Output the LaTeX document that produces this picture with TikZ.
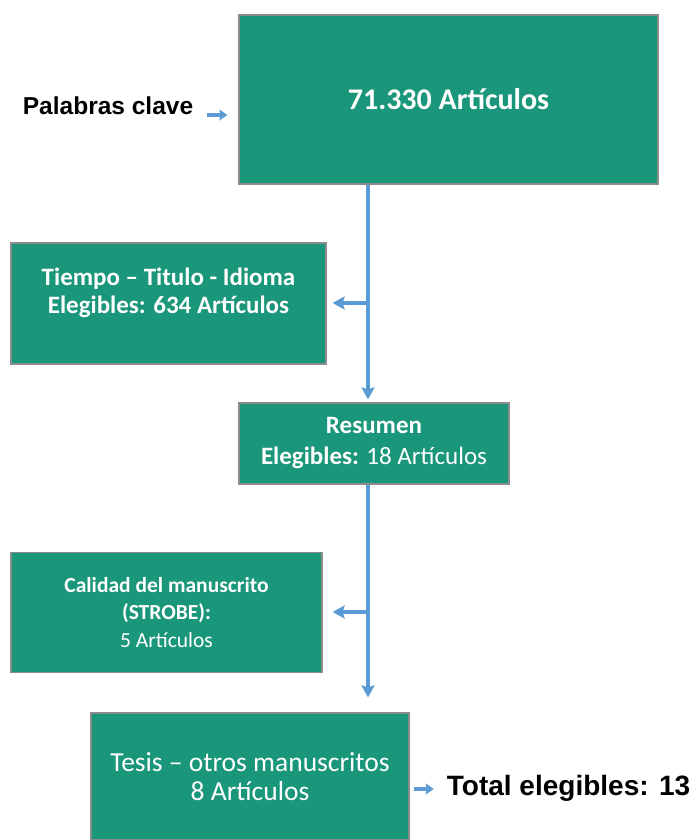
\documentclass[tikz,border=0pt]{standalone}
\usepackage{fontspec}
\setmainfont{Carlito}
\newfontfamily\arialfont{Liberation Sans}
\usepackage{tikz}
\usetikzlibrary{arrows.meta, calc, positioning}
\definecolor{boxgreen}{RGB}{26,150,122}
\definecolor{boxedge}{RGB}{140,140,140}
\definecolor{flowblue}{RGB}{91,155,213}
\tikzset{
  green box/.style={
    rectangle, draw=boxedge, line width=1.2pt, fill=boxgreen,
    text=white, align=center, inner sep=0pt
  },
  flow arrow/.style={draw=flowblue, line width=3.2pt, -{Stealth[width=13pt, length=12pt, inset=2pt]}},
  small arrow/.style={draw=flowblue, line width=3.6pt, -{Stealth[width=11pt, length=8pt, inset=1pt]}},
  side text/.style={text=black, inner sep=0pt, anchor=base west},
}

\begin{document}
\begin{tikzpicture}[x=1pt, y=-1pt]
  \useasboundingbox (0,0) rectangle (691,840);

  % Boxes
  \node[green box, minimum width=419pt, minimum height=169pt,
        font=\bfseries\fontsize{30}{36}\selectfont] (articulos) at (448.5,99.5) {71.330 Artículos};
  \node[green box, minimum width=315pt, minimum height=121pt,
        font=\bfseries\fontsize{25}{28}\selectfont] (tiempo) at (168.5,303.5)
        {Tiempo – Titulo - Idioma\\Elegibles: 634 Artículos\\[-11pt]\strut};
  \node[green box, minimum width=270pt, minimum height=81pt,
        font=\fontsize{25}{31}\selectfont] (resumen) at (374,443.5)
        {\textbf{Resumen}\\\textbf{Elegibles:} 18 Artículos};
  \node[green box, minimum width=311pt, minimum height=120pt,
        font=\fontsize{21.5}{27.5}\selectfont] (calidad) at (166.5,612.5)
        {\textbf{Calidad del manuscrito}\\\textbf{(STROBE):}\\5 Artículos};
  \node[green box, minimum width=318pt, minimum height=127pt,
        font=\fontsize{27.5}{29}\selectfont] (tesis) at (250,776.5)
        {Tesis – otros manuscritos\\8 Artículos};

  % Side texts
  \node[side text, font=\arialfont\bfseries\fontsize{24.5}{29}\selectfont] (clave) at (22.7,115) {Palabras clave};
  \node[side text, font=\arialfont\bfseries\fontsize{28}{34}\selectfont] (elegibles) at (446.7,795) {Total elegibles: 13};

  % Arrows
  \coordinate (split1) at (368,303);
  \coordinate (split2) at (368,612);
  \coordinate (eleg in) at ($(elegibles.base west)+(0,-6)$);
  \draw[flow arrow, shorten >=3pt] (articulos.south -| split1) -- (resumen.north -| split1);
  \draw[flow arrow, shorten >=6pt] (split1) -- (tiempo.east |- split1);
  \draw[flow arrow, shorten >=15pt] (resumen.south -| split2) -- (tesis.north -| split2);
  \draw[flow arrow, shorten >=10pt] (split2) -- (calidad.east |- split2);
  \draw[small arrow, shorten <=14pt, shorten >=11pt] (clave.base east) -- (clave.base east -| articulos.west);
  \draw[small arrow, shorten <=4pt, shorten >=13pt] (eleg in -| tesis.east) -- (eleg in);

\end{tikzpicture}
\end{document}
